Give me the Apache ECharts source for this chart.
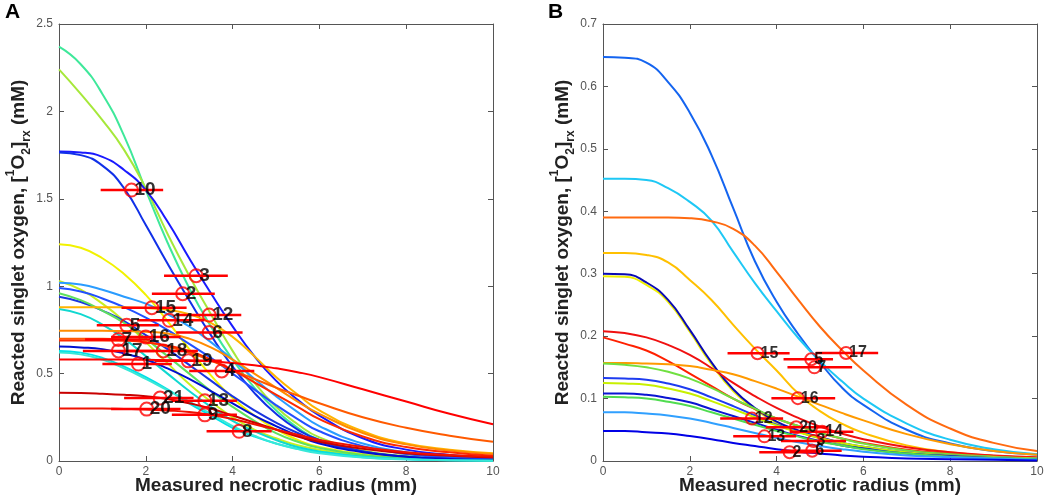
<!DOCTYPE html>
<html><head><meta charset="utf-8">
<script src="https://cdn.jsdelivr.net/npm/echarts@6/dist/echarts.min.js"></script>
<style>html,body{margin:0;padding:0;background:#fff}#c{width:1050px;height:500px}</style>
</head><body><div id="c"></div>
<script>
// ---------- DATA ----------
const xSamples = [0, 0.5, 1, 1.5, 2, 2.5, 3, 3.5, 4, 4.5, 5, 5.5, 6, 7, 8, 9, 10];

// Panel A model curves (value at each xSamples)
const curveA01 = [2.37, 2.27, 2.1, 1.86, 1.55, 1.25, 0.99, 0.77, 0.58, 0.42, 0.29, 0.19, 0.12, 0.055, 0.025, 0.012, 0.006];
const curveA02 = [2.24, 2.1, 1.95, 1.78, 1.56, 1.3, 1.06, 0.84, 0.63, 0.45, 0.31, 0.21, 0.135, 0.06, 0.028, 0.014, 0.007];
const curveA03 = [1.77, 1.765, 1.74, 1.665, 1.55, 1.37, 1.16, 0.96, 0.77, 0.6, 0.46, 0.35, 0.26, 0.13, 0.065, 0.035, 0.02];
const curveA04 = [1.765, 1.75, 1.69, 1.56, 1.35, 1.13, 0.92, 0.72, 0.54, 0.39, 0.27, 0.18, 0.12, 0.055, 0.025, 0.012, 0.006];
const curveA05 = [1.24, 1.22, 1.16, 1.07, 0.95, 0.8, 0.64, 0.49, 0.36, 0.26, 0.18, 0.12, 0.08, 0.04, 0.02, 0.01, 0.006];
const curveA06 = [1.03, 0.98, 0.9, 0.8, 0.68, 0.56, 0.44, 0.34, 0.25, 0.18, 0.13, 0.09, 0.065, 0.03, 0.015, 0.008, 0.004];
const curveA07 = [1.02, 1.01, 0.98, 0.94, 0.9, 0.84, 0.77, 0.68, 0.58, 0.47, 0.37, 0.28, 0.2, 0.1, 0.05, 0.025, 0.013];
const curveA08 = [0.99, 0.97, 0.93, 0.88, 0.82, 0.75, 0.67, 0.59, 0.5, 0.41, 0.32, 0.24, 0.17, 0.085, 0.04, 0.02, 0.01];
const curveA09 = [0.94, 0.91, 0.86, 0.8, 0.72, 0.64, 0.55, 0.46, 0.37, 0.29, 0.22, 0.16, 0.11, 0.055, 0.025, 0.012, 0.006];
const curveA10 = [0.96, 0.92, 0.86, 0.79, 0.7, 0.6, 0.5, 0.4, 0.31, 0.23, 0.16, 0.11, 0.075, 0.035, 0.016, 0.008, 0.004];
const curveA11 = [0.87, 0.84, 0.78, 0.7, 0.6, 0.5, 0.4, 0.31, 0.23, 0.17, 0.12, 0.08, 0.055, 0.025, 0.012, 0.006, 0.003];
const curveA12 = [0.88, 0.88, 0.88, 0.879, 0.875, 0.865, 0.84, 0.79, 0.71, 0.6, 0.48, 0.38, 0.29, 0.17, 0.1, 0.065, 0.045];
const curveA13 = [0.745, 0.745, 0.745, 0.743, 0.74, 0.73, 0.7, 0.65, 0.58, 0.5, 0.42, 0.34, 0.27, 0.16, 0.095, 0.06, 0.04];
const curveA14 = [0.70, 0.70, 0.70, 0.695, 0.68, 0.655, 0.62, 0.575, 0.52, 0.47, 0.42, 0.375, 0.33, 0.25, 0.19, 0.145, 0.11];
const curveA15 = [0.69, 0.69, 0.69, 0.688, 0.68, 0.66, 0.63, 0.58, 0.52, 0.45, 0.38, 0.31, 0.24, 0.14, 0.08, 0.05, 0.03];
const curveA16 = [0.655, 0.65, 0.64, 0.615, 0.58, 0.53, 0.47, 0.4, 0.33, 0.26, 0.2, 0.145, 0.1, 0.05, 0.025, 0.012, 0.006];
const curveA17 = [0.63, 0.62, 0.59, 0.54, 0.48, 0.41, 0.33, 0.26, 0.19, 0.14, 0.1, 0.07, 0.05, 0.022, 0.01, 0.005, 0.003];
const curveA18 = [0.62, 0.61, 0.58, 0.53, 0.47, 0.405, 0.34, 0.27, 0.2, 0.145, 0.1, 0.068, 0.045, 0.02, 0.01, 0.005, 0.002];
const curveA19 = [0.58, 0.58, 0.58, 0.58, 0.579, 0.577, 0.575, 0.57, 0.56, 0.548, 0.53, 0.508, 0.48, 0.41, 0.34, 0.27, 0.21];
const curveA20 = [0.39, 0.389, 0.385, 0.379, 0.37, 0.355, 0.33, 0.3, 0.26, 0.22, 0.18, 0.14, 0.11, 0.07, 0.045, 0.03, 0.02];
const curveA21 = [0.30, 0.30, 0.30, 0.298, 0.295, 0.289, 0.28, 0.263, 0.24, 0.21, 0.18, 0.15, 0.12, 0.08, 0.05, 0.035, 0.025];

// Panel B model curves
const curveB01 = [0.647, 0.646, 0.638, 0.607, 0.558, 0.49, 0.405, 0.32, 0.255, 0.203, 0.158, 0.118, 0.09, 0.05, 0.028, 0.016, 0.01];
const curveB02 = [0.452, 0.452, 0.45, 0.437, 0.415, 0.385, 0.335, 0.285, 0.24, 0.197, 0.16, 0.128, 0.1, 0.06, 0.034, 0.019, 0.011];
const curveB03 = [0.39, 0.39, 0.39, 0.39, 0.389, 0.384, 0.372, 0.345, 0.303, 0.258, 0.215, 0.178, 0.145, 0.09, 0.052, 0.029, 0.016];
const curveB04 = [0.333, 0.333, 0.33, 0.318, 0.29, 0.258, 0.218, 0.18, 0.145, 0.108, 0.08, 0.06, 0.045, 0.025, 0.014, 0.008, 0.005];
const curveB05 = [0.296, 0.295, 0.282, 0.255, 0.207, 0.155, 0.112, 0.083, 0.061, 0.047, 0.036, 0.028, 0.021, 0.012, 0.007, 0.004, 0.002];
const curveB06 = [0.30, 0.299, 0.286, 0.258, 0.21, 0.158, 0.115, 0.085, 0.063, 0.049, 0.038, 0.029, 0.022, 0.013, 0.008, 0.005, 0.003];
const curveB07 = [0.208, 0.205, 0.198, 0.186, 0.17, 0.149, 0.125, 0.104, 0.085, 0.069, 0.055, 0.044, 0.035, 0.022, 0.014, 0.009, 0.006];
const curveB08 = [0.198, 0.188, 0.177, 0.16, 0.14, 0.12, 0.1, 0.083, 0.068, 0.056, 0.045, 0.036, 0.029, 0.018, 0.012, 0.008, 0.005];
const curveB09 = [0.157, 0.157, 0.156, 0.155, 0.152, 0.146, 0.139, 0.128, 0.116, 0.103, 0.09, 0.077, 0.065, 0.043, 0.027, 0.016, 0.01];
const curveB10 = [0.156, 0.154, 0.15, 0.143, 0.132, 0.117, 0.1, 0.084, 0.068, 0.056, 0.045, 0.036, 0.028, 0.017, 0.011, 0.007, 0.004];
const curveB11 = [0.133, 0.132, 0.13, 0.124, 0.115, 0.102, 0.088, 0.073, 0.058, 0.047, 0.037, 0.029, 0.023, 0.014, 0.009, 0.006, 0.004];
const curveB12 = [0.125, 0.124, 0.122, 0.116, 0.108, 0.096, 0.083, 0.07, 0.057, 0.046, 0.037, 0.029, 0.023, 0.014, 0.009, 0.006, 0.004];
const curveB13 = [0.108, 0.108, 0.106, 0.101, 0.094, 0.083, 0.072, 0.061, 0.05, 0.04, 0.032, 0.025, 0.02, 0.012, 0.008, 0.005, 0.003];
const curveB14 = [0.103, 0.102, 0.1, 0.095, 0.088, 0.078, 0.068, 0.058, 0.048, 0.039, 0.031, 0.025, 0.019, 0.012, 0.007, 0.005, 0.003];
const curveB15 = [0.078, 0.078, 0.076, 0.073, 0.068, 0.061, 0.053, 0.045, 0.037, 0.03, 0.024, 0.019, 0.015, 0.009, 0.006, 0.004, 0.002];
const curveB16 = [0.048, 0.048, 0.046, 0.044, 0.04, 0.035, 0.029, 0.024, 0.019, 0.015, 0.012, 0.009, 0.007, 0.004, 0.003, 0.002, 0.001];

// Panel A measured points
const pointsA_label = ['10', '3', '2', '15', '12', '14', '5', '6', '16', '7', '17', '18', '1', '19', '4', '21', '13', '20', '9', '8'];
const pointsA_x  = [1.67, 3.16, 2.85, 2.14, 3.46, 2.54, 1.56, 3.46, 2.0, 1.37, 1.37, 2.4, 1.83, 2.98, 3.75, 2.33, 3.36, 2.02, 3.36, 4.15];
const pointsA_y  = [1.55, 1.06, 0.957, 0.877, 0.835, 0.805, 0.776, 0.735, 0.71, 0.695, 0.63, 0.63, 0.555, 0.573, 0.515, 0.36, 0.344, 0.297, 0.264, 0.17];
const pointsA_lo = [0.96, 2.42, 2.14, 1.44, 2.7, 1.8, 0.87, 2.7, 1.2, 0.6, 0.55, 1.6, 1.0, 2.2, 3.0, 1.5, 2.6, 1.2, 2.6, 3.4];
const pointsA_hi = [2.40, 3.89, 3.59, 2.94, 4.2, 3.35, 2.3, 4.23, 2.8, 2.1, 2.2, 3.2, 2.6, 3.75, 4.5, 3.1, 4.1, 2.8, 4.1, 4.9];

// Panel B measured points
const pointsB_label = ['15', '17', '5', '7', '16', '12', '20', '14', '13', '3', '2', '6'];
const pointsB_x  = [3.56, 5.6, 4.8, 4.87, 4.49, 3.43, 4.45, 5.05, 3.72, 4.85, 4.3, 4.82];
const pointsB_y  = [0.1726, 0.173, 0.163, 0.15, 0.1007, 0.068, 0.054, 0.047, 0.0395, 0.032, 0.0139, 0.0165];
const pointsB_lo = [2.87, 4.9, 4.16, 4.25, 3.88, 2.7, 3.75, 4.3, 3.0, 4.1, 3.6, 4.1];
const pointsB_hi = [4.3, 6.34, 5.3, 5.74, 5.35, 4.15, 5.2, 5.77, 4.45, 5.6, 5.0, 5.5];

// Axis ticks
const xTickStep = 2, xMin = 0, xMax = 10;
const yStepA = 0.5, yMaxA = 2.5;
const yStepB = 0.1, yMaxB = 0.7;

// ---------- STYLE ----------
const curvesA = [curveA01, curveA02, curveA03, curveA04, curveA05, curveA06, curveA07, curveA08, curveA09, curveA10, curveA11, curveA12, curveA13, curveA14, curveA15, curveA16, curveA17, curveA18, curveA19, curveA20, curveA21];
const colorsA = ['#3ee89a', '#a6e83a', '#1a1aff', '#1030e8', '#f2f200', '#c8f020', '#2a9cff', '#2250ff', '#1a36e0', '#5ee05e', '#10d8d0', '#ffb400', '#ff8c00', '#ff5a00', '#ff2a00', '#0010d0', '#00e0e8', '#38e8d8', '#ff0000', '#c80000', '#f01000'];
const curvesB = [curveB01, curveB02, curveB03, curveB04, curveB05, curveB06, curveB07, curveB08, curveB09, curveB10, curveB11, curveB12, curveB13, curveB14, curveB15, curveB16];
const colorsB = ['#1464f0', '#1ec8f5', '#ff6a10', '#ffc000', '#f0f000', '#0a0ab4', '#f01010', '#ff2000', '#ff9a00', '#70e040', '#1e3cf0', '#c8f000', '#0a14d2', '#50dc50', '#30a0ff', '#0000e6'];

const FONT = '"Liberation Sans", Arial, Helvetica, sans-serif';
const axisGray = '#555';

function xAxes(gridIndex) {
  const base = {
    gridIndex, type: 'value', min: xMin, max: xMax, interval: xTickStep,
    axisLine: { show: true, onZero: false, lineStyle: { color: axisGray, width: 1 } },
    axisTick: { show: true, inside: true, length: 5, lineStyle: { color: axisGray } },
    splitLine: { show: false }
  };
  return [
    Object.assign({}, base, {
      position: 'bottom',
      axisLabel: { show: true, margin: 5, fontSize: 12, color: '#555', fontFamily: FONT, showMinLabel: true, showMaxLabel: true },
      name: 'Measured necrotic radius (mm)', nameLocation: 'middle', nameGap: 15, nameMoveOverlap: false,
      nameTextStyle: { fontSize: 19, fontWeight: 'bold', color: '#222', fontFamily: FONT, verticalAlign: 'top' }
    }),
    Object.assign({}, base, { position: 'top', axisLabel: { show: false } })
  ];
}

function yAxes(gridIndex, step, max) {
  const base = {
    gridIndex, type: 'value', min: 0, max: max, interval: step,
    axisLine: { show: true, onZero: false, lineStyle: { color: axisGray, width: 1 } },
    axisTick: { show: true, inside: true, length: 5, lineStyle: { color: axisGray } },
    splitLine: { show: false }
  };
  return [
    Object.assign({}, base, {
      position: 'left',
      axisLabel: { show: true, margin: 6, fontSize: 12, color: '#555', fontFamily: FONT, showMinLabel: true, showMaxLabel: true },
      name: '{m|Reacted singlet oxygen, [}{sup|1}{m|O}{sub|2}{m|]}{sub|rx}{m| (mM)}',
      nameLocation: 'middle', nameRotate: 90, nameGap: 26, nameMoveOverlap: false,
      nameTextStyle: {
        fontFamily: FONT, color: '#222',
        rich: {
          m: { fontSize: 19, fontWeight: 'bold', color: '#222', fontFamily: FONT, lineHeight: 28, verticalAlign: 'middle' },
          sup: { fontSize: 12, fontWeight: 'bold', color: '#222', fontFamily: FONT, lineHeight: 12, verticalAlign: 'top' },
          sub: { fontSize: 12, fontWeight: 'bold', color: '#222', fontFamily: FONT, lineHeight: 12, verticalAlign: 'bottom' }
        }
      }
    }),
    Object.assign({}, base, { position: 'right', axisLabel: { show: false } })
  ];
}

function curveSeries(curves, colors, axisIdx) {
  return curves.map((c, i) => ({
    type: 'line', xAxisIndex: axisIdx, yAxisIndex: axisIdx,
    data: xSamples.map((x, j) => [x, c[j]]),
    smooth: 0.5, showSymbol: false, symbol: 'none', silent: true,
    lineStyle: { color: colors[i], width: 2 }, z: 2, animation: false
  }));
}

function errSeries(xs, ys, lo, hi, axisIdx) {
  return {
    type: 'custom', xAxisIndex: axisIdx, yAxisIndex: axisIdx, silent: true, z: 3, animation: false,
    data: ys.map((y, i) => [lo[i], hi[i], y]),
    encode: { x: [0, 1], y: 2 },
    renderItem: (params, api) => {
      const p1 = api.coord([api.value(0), api.value(2)]);
      const p2 = api.coord([api.value(1), api.value(2)]);
      return { type: 'line', shape: { x1: p1[0], y1: p1[1], x2: p2[0], y2: p2[1] }, style: { stroke: '#ff0000', lineWidth: 2.5 } };
    }
  };
}

function pointSeries(xs, ys, labels, axisIdx, size, fsize) {
  return {
    type: 'scatter', xAxisIndex: axisIdx, yAxisIndex: axisIdx, silent: true, z: 4, animation: false,
    symbol: 'circle', symbolSize: size,
    itemStyle: { color: 'rgba(255,255,255,0)', borderColor: '#ff0000', borderWidth: 2 },
    data: xs.map((x, i) => ({ value: [x, ys[i]], label: { formatter: labels[i] } })),
    label: {
      show: true, position: [size / 2 + 4, size / 2 + 1], align: 'left', verticalAlign: 'middle',
      fontSize: fsize, fontWeight: 'bold', color: '#000', fontFamily: FONT
    }
  };
}

const chart = echarts.init(document.getElementById('c'), null, { renderer: 'canvas' });
const xa = xAxes(0).concat(xAxes(1));
const ya = yAxes(0, yStepA, yMaxA).concat(yAxes(1, yStepB, yMaxB));
xa[2].gridIndex = 1; xa[3].gridIndex = 1;
ya[2].gridIndex = 1; ya[3].gridIndex = 1;

chart.setOption({
  animation: false,
  backgroundColor: '#fff',
  grid: [
    { left: 59, top: 24, width: 434, height: 438, containLabel: false },
    { left: 603, top: 24, width: 434, height: 438, containLabel: false }
  ],
  xAxis: xa,
  yAxis: ya,
  graphic: [
    { type: 'text', left: 5, top: 2, style: { text: 'A', fontSize: 21, fontWeight: 'bold', fill: '#000', fontFamily: FONT } },
    { type: 'text', left: 548, top: 2, style: { text: 'B', fontSize: 21, fontWeight: 'bold', fill: '#000', fontFamily: FONT } }
  ],
  series: [].concat(
    curveSeries(curvesA, colorsA, 0),
    [errSeries(pointsA_x, pointsA_y, pointsA_lo, pointsA_hi, 0),
     pointSeries(pointsA_x, pointsA_y, pointsA_label, 0, 13, 19)],
    curveSeries(curvesB, colorsB, 2),
    [errSeries(pointsB_x, pointsB_y, pointsB_lo, pointsB_hi, 2),
     pointSeries(pointsB_x, pointsB_y, pointsB_label, 2, 12, 16)]
  )
});
</script>
</body></html>
